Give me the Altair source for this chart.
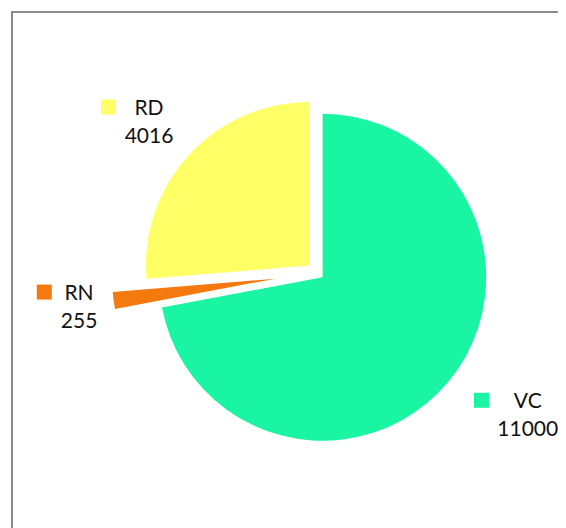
import altair as alt
import pandas as pd

# ---- data ----
categories = ["VC", "RN", "RD"]
values = [11000, 255, 4016]
colors = ["#19F5A2", "#F47A0F", "#FFFF66"]

# ---- styles / layout ----
EXPLODE = {"VC": 6.7, "RN": 42.2, "RD": 11.0}     # slice explosion (px)
LABEL_R = {"VC": 250, "RN": 240, "RD": 231}        # label distance from pie centre (px)
LABEL_NUDGE = {"VC": -6.9, "RN": 1.2, "RD": 0.5}   # label angle nudge (deg)
CX, CY, R = 309.5, 265.0, 163.5
W, H = 550, 520
FONT = "Lato"
FS = 21

df = pd.DataFrame({"cat": categories, "value": values, "order": list(range(len(categories)))})
df["explode"] = df["cat"].map(EXPLODE)
df["label_r"] = df["cat"].map(LABEL_R)
df["nudge"] = df["cat"].map(LABEL_NUDGE)

base = (
    alt.Chart(df)
    .transform_joinaggregate(total="sum(value)")
    .transform_window(cum="sum(value)", sort=[alt.SortField("order")], frame=[None, 0])
    .transform_calculate(t0="2*PI*(datum.cum - datum.value)/datum.total")
    .transform_calculate(t1="2*PI*datum.cum/datum.total")
    .transform_calculate(mid="(datum.t0 + datum.t1)/2")
    .transform_calculate(cx=f"{CX} + datum.explode*sin(datum.mid)")
    .transform_calculate(cy=f"{CY} - datum.explode*cos(datum.mid)")
    .transform_calculate(la="datum.mid + datum.nudge*PI/180")
    .transform_calculate(lx=f"{CX} + datum.label_r*sin(datum.la)")
    .transform_calculate(ly=f"{CY} - datum.label_r*cos(datum.la)")
    # legend key sits just left of the value text block
    .transform_calculate(sx="datum.lx - length(toString(datum.value))*5.75 - 17.5")
    .transform_calculate(sy="datum.ly - 8")
    .transform_calculate(vy="datum.ly + 28")
)

color = alt.Color("cat:N", scale=alt.Scale(domain=categories, range=colors), legend=None)

arcs = base.mark_arc(radius=R).encode(
    x=alt.X("cx:Q", scale=None, axis=None),
    y=alt.Y("cy:Q", scale=None, axis=None),
    theta=alt.Theta("t0:Q", scale=None),
    theta2="t1:Q",
    color=color,
)

squares = base.mark_square(size=225, opacity=1, filled=True).encode(
    x=alt.X("sx:Q", scale=None, axis=None),
    y=alt.Y("sy:Q", scale=None, axis=None),
    color=color,
)

names = base.mark_text(font=FONT, fontSize=FS, align="center", baseline="alphabetic", color="#111111").encode(
    x=alt.X("lx:Q", scale=None, axis=None),
    y=alt.Y("ly:Q", scale=None, axis=None),
    text="cat:N",
)

vals = base.mark_text(font=FONT, fontSize=FS, align="center", baseline="alphabetic", color="#111111").encode(
    x=alt.X("lx:Q", scale=None, axis=None),
    y=alt.Y("vy:Q", scale=None, axis=None),
    text=alt.Text("value:Q", format="d"),
)

frame_data = alt.Data(values=[{"f": 1}])
frame_top = alt.Chart(frame_data).mark_rule(stroke="#8c8c8c", strokeWidth=2).encode(
    x=alt.value(3), x2=alt.value(W + 50), y=alt.value(4)
)
frame_left = alt.Chart(frame_data).mark_rule(stroke="#8c8c8c", strokeWidth=2).encode(
    x=alt.value(4), y=alt.value(3), y2=alt.value(H + 50)
)

chart = (
    alt.layer(frame_top, frame_left, arcs, squares, names, vals)
    .properties(width=W, height=H, padding=0, autosize=alt.AutoSizeParams(type="none"))
    .configure_view(stroke=None)
)

chart.save("out.html", embed_options={"renderer": "svg", "actions": False})
